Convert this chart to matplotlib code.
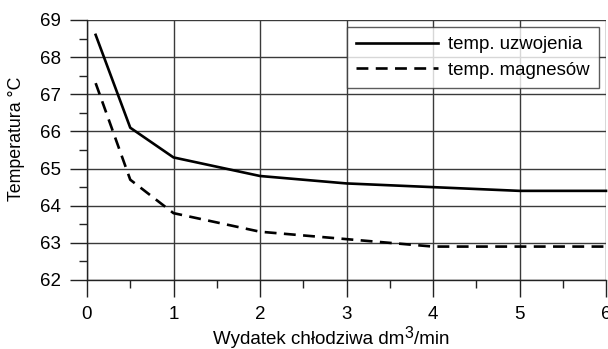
import matplotlib
matplotlib.use("Agg")
import matplotlib.pyplot as plt
from matplotlib.ticker import MultipleLocator

plt.rcParams['font.family'] = ['Liberation Sans', 'DejaVu Sans']

flow = [0.1, 0.5, 1, 2, 3, 4, 5, 6]
temp_winding = [68.6, 66.1, 65.3, 64.8, 64.6, 64.5, 64.4, 64.4]
temp_magnets = [67.3, 64.7, 63.8, 63.3, 63.1, 62.9, 62.9, 62.9]
labels = ["temp. uzwojenia", "temp. magnesów"]
xlabel_parts = ["Wydatek chłodziwa dm", "3", "/min"]
ylabel = "Temperatura °C"

W, H = 608, 349
fig = plt.figure(figsize=(W/100, H/100), dpi=100)
ax = fig.add_axes([87/W, 1-280/H, (606-87)/W, 260/H])

ax.plot(flow, temp_winding, color='black', lw=1.9, label=labels[0], clip_on=False)
ax.plot(flow, temp_magnets, color='black', lw=1.9, ls=(0, (4.5, 2.8)), label=labels[1], clip_on=False)

ax.set_xlim(0, 6)
ax.set_ylim(62, 69)
ax.xaxis.set_major_locator(MultipleLocator(1))
ax.xaxis.set_minor_locator(MultipleLocator(0.5))
ax.yaxis.set_major_locator(MultipleLocator(1))
ax.yaxis.set_minor_locator(MultipleLocator(0.5))
ax.grid(True, which='major', color='#3a3a3a', lw=1.0)
ax.set_axisbelow(True)
ax.tick_params(which='major', direction='out', length=12.5, width=1.0, color='#222222', labelsize=13.5)
ax.tick_params(which='minor', direction='out', length=6, width=1.0, color='#222222')
ax.tick_params(axis='x', which='major', pad=6)
ax.tick_params(axis='y', which='major', pad=6)
for s in ['top', 'right']:
    ax.spines[s].set_visible(False)
for s in ['left', 'bottom']:
    ax.spines[s].set_color('#222222')
    ax.spines[s].set_linewidth(1.0)

# y label
fig.text(17/W, 1-138.5/H, ylabel, rotation=90, ha='center', va='center', fontsize=12.8)

# x label with full-size superscript
fig.canvas.draw()
r = fig.canvas.get_renderer()
base_y = 1-344/H
x0 = 213/W
t1 = fig.text(x0, base_y, xlabel_parts[0], fontsize=13.5, ha='left', va='baseline')
bb = t1.get_window_extent(r)
t2 = fig.text(bb.x1/W + 0.5/W, base_y + 6/H, xlabel_parts[1], fontsize=11.5, ha='left', va='baseline')
bb2 = t2.get_window_extent(r)
fig.text(bb2.x1/W, base_y, xlabel_parts[2], fontsize=13.5, ha='left', va='baseline')

leg = ax.legend(loc='upper right', bbox_to_anchor=(599/W, 1-27/H), bbox_transform=fig.transFigure,
                fontsize=13.4, frameon=True, fancybox=False, handlelength=4.4, borderpad=0.5,
                labelspacing=0.45, handletextpad=0.55, borderaxespad=0)
leg.get_frame().set_edgecolor('#333333')
leg.get_frame().set_linewidth(1.0)

fig.savefig("out.png", dpi=100)
